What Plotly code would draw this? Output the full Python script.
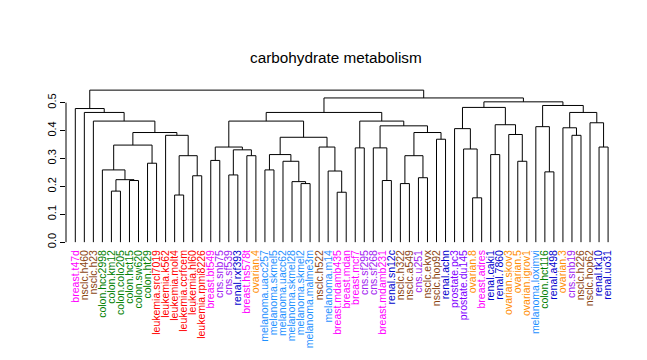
import plotly.graph_objects as go

# ---------------- data ----------------
leaf_labels = [
    "breast.t47d", "nsclc.h460", "nsclc.h23", "colon.hcc2998", "colon.km12",
    "colon.colo205", "colon.hct15", "colon.sw620", "colon.ht29", "leukemia.srcl7019",
    "leukemia.k562", "leukemia.molt4", "leukemia.ccrfcem", "leukemia.hl60", "leukemia.rpmi8226",
    "breast.bt549", "cns.snb75", "cns.sf539", "renal.rxf393", "breast.hs578t",
    "ovarian.4", "melanoma.uacc257", "melanoma.skmel5", "melanoma.uacc62", "melanoma.skmel28",
    "melanoma.skmel2", "melanoma.malme3m", "nsclc.h522", "melanoma.m14", "breast.mdamb435",
    "breast.mdan", "breast.mcf7", "cns.sf295", "cns.sf268", "breast.mdamb231",
    "renal.sn12c", "nsclc.h322", "nsclc.a549", "cns.u251", "nsclc.ekvx",
    "nsclc.hop92", "renal.achn", "prostate.pc3", "prostate.du145", "ovarian.8",
    "breast.adres", "renal.caki1", "renal.7860", "ovarian.skov3", "ovarian.5",
    "ovarian.igrov1", "melanoma.loximvi", "colon.hct116", "renal.a498", "ovarian.3",
    "cns.snb19", "nsclc.h226", "nsclc.hop62", "renal.tk10", "renal.uo31",
]

# R-style merge matrix: negative = leaf (1-based position), positive = earlier merge (1-based)
merge_left = [
    -5, -7, 1, -4, -9, 4, -12, -14, 7, -11, 6, -3, -2, -1,
    -16, -18, -20, 16, 15, -22, -26, -25, -24, 20, -30, -29, -28, 24, 19,
    -32, -35, -34, -37, -39, 33, -41, 35, 32, 30, 29,
    -45, -44, -43, -47, -50, -49, 44, 43, -53, -52, -56, -55, -59, -58, 52, 50, 48, 40, 14,
]
merge_right = [
    -6, -8, 2, 3, -10, 5, -13, -15, 8, 9, 10, 11, 12, 13,
    -17, -19, -21, 17, 18, -23, -27, 21, 22, 23, -31, 25, 26, 27, 28,
    -33, -36, 31, -38, -40, 34, -42, 36, 37, 38, 39,
    -46, 41, 42, -48, -51, 45, 46, 47, -54, 49, -57, 51, -60, 53, 54, 55, 56, 57, 58,
]
merge_height = [
    0.183, 0.221, 0.224, 0.259, 0.283, 0.348, 0.169, 0.238, 0.310, 0.383, 0.393, 0.434, 0.465, 0.479,
    0.293, 0.241, 0.310, 0.331, 0.341, 0.259, 0.210, 0.217, 0.290, 0.314, 0.179, 0.255, 0.341, 0.376, 0.434,
    0.338, 0.221, 0.338, 0.210, 0.231, 0.310, 0.369, 0.393, 0.417, 0.434, 0.465,
    0.159, 0.334, 0.407, 0.314, 0.290, 0.386, 0.421, 0.483, 0.252, 0.414, 0.383, 0.410, 0.341, 0.428,
    0.465, 0.490, 0.503, 0.517, 0.545,
]

y_ticks = [0.0, 0.1, 0.2, 0.3, 0.4, 0.5]
y_tick_labels = ["0.0", "0.1", "0.2", "0.3", "0.4", "0.5"]
title_text = "carbohydrate metabolism"

group_colors = {
    "breast": "#FF00FF",
    "nsclc": "#8B4513",
    "colon": "#008000",
    "leukemia": "#FF0000",
    "cns": "#A020F0",
    "renal": "#0000CD",
    "ovarian": "#FF8C00",
    "melanoma": "#1E90FF",
    "prostate": "#7F00FF",
}

# ---------------- build dendrogram segments ----------------
node_x = {}
node_h = {}


def child_pos(c):
    if c < 0:
        return float(-c), 0.0
    return node_x[c], node_h[c]


xs, ys = [], []
for i, (a, b, h) in enumerate(zip(merge_left, merge_right, merge_height), start=1):
    xa, ha = child_pos(a)
    xb, hb = child_pos(b)
    xs += [xa, xa, xb, xb, None]
    ys += [ha, h, h, hb, None]
    node_x[i] = (xa + xb) / 2
    node_h[i] = h

fig = go.Figure()
fig.add_trace(go.Scatter(x=xs, y=ys, mode="lines",
                         line=dict(color="black", width=1),
                         hoverinfo="skip", showlegend=False))

# coloured leaf labels as x-axis tick labels
leaf_pos = list(range(1, len(leaf_labels) + 1))
leaf_text = [
    f"<span style='color:{group_colors.get(lab.split('.')[0], 'black')}'>{lab}</span>"
    for lab in leaf_labels
]

# y axis line from 0 to 0.5 (R style)
fig.add_shape(type="line", xref="paper", x0=0, x1=0, yref="y",
              y0=y_ticks[0], y1=y_ticks[-1], line=dict(color="black", width=1))

# title
fig.add_annotation(text=title_text, xref="paper", yref="paper",
                   x=(336 - 66) / 554, y=1 + 23 / 174, xanchor="center", yanchor="middle",
                   showarrow=False, font=dict(size=15.3, color="black"))

fig.update_layout(
    width=647, height=360, autosize=False,
    paper_bgcolor="white", plot_bgcolor="white",
    margin=dict(l=66, r=27, t=80, b=107, pad=0),
    font=dict(family="Liberation Sans, Arial, sans-serif", color="black"),
    xaxis=dict(range=[-0.03, 61.32], showgrid=False, zeroline=False, showline=False,
               tickmode="array", tickvals=leaf_pos, ticktext=leaf_text,
               tickangle=-90, ticks="", tickfont=dict(size=10.5)),
    yaxis=dict(range=[-0.0173, 0.5813], showgrid=False, zeroline=False, showline=False,
               tickvals=y_ticks, ticktext=y_tick_labels, ticks="outside", ticklen=5,
               tickwidth=1, tickcolor="black", tickangle=-90,
               tickfont=dict(size=11, color="black")),
    showlegend=False,
    hovermode=False,
)

fig.write_html("out.html",
               config={"displayModeBar": False, "staticPlot": True},
               post_script="document.body.style.margin='0';document.body.style.padding='0';")
